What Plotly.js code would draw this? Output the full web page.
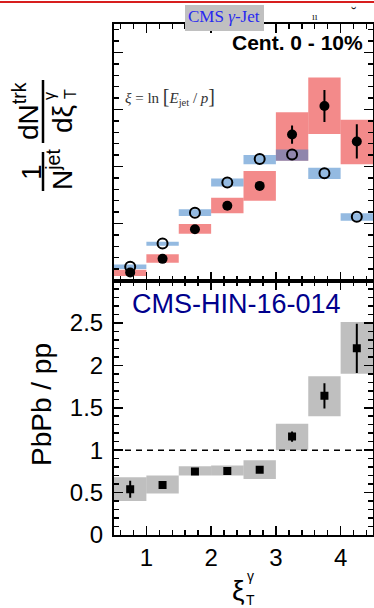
<!DOCTYPE html>
<html><head><meta charset="utf-8">
<script src="https://cdn.plot.ly/plotly-3.0.1.min.js"></script>
<style>html,body{margin:0;padding:0;background:#fff}</style>
</head><body><div id="chart" style="width:374px;height:608px"></div>
<script>
// ---- data ----
const binCenters = [0.75, 1.25, 1.75, 2.25, 2.75, 3.25, 3.75, 4.25];
const binWidth = 0.5;
// top panel: PbPb (filled) and pp (open)
const pbpbVal   = [0.14, 0.38, 0.90, 1.31, 1.66, 2.56, 3.06, 2.44];
const pbpbStat  = [0.03, 0.03, 0.03, 0.04, 0.05, 0.16, 0.28, 0.30];
const pbpbSysLo = [0.08, 0.31, 0.82, 1.18, 1.40, 2.10, 2.57, 2.04];
const pbpbSysHi = [0.19, 0.46, 0.99, 1.45, 1.92, 2.95, 3.56, 2.82];
const ppVal     = [0.24, 0.65, 1.19, 1.72, 2.13, 2.21, 1.88, 1.12];
const ppSysLo   = [0.20, 0.61, 1.13, 1.65, 2.04, 2.10, 1.78, 1.05];
const ppSysHi   = [0.28, 0.68, 1.25, 1.79, 2.20, 2.30, 1.98, 1.18];
// bottom panel: PbPb / pp
const ratioVal   = [0.54, 0.59, 0.75, 0.755, 0.77, 1.16, 1.64, 2.20];
const ratioStat  = [0.10, 0.04, 0.02, 0.02, 0.02, 0.06, 0.15, 0.29];
const ratioSysLo = [0.40, 0.49, 0.70, 0.70, 0.66, 1.00, 1.40, 1.90];
const ratioSysHi = [0.68, 0.70, 0.81, 0.82, 0.88, 1.31, 1.87, 2.51];
const xTickVals = [1, 2, 3, 4];
const yRatioTicks = [0, 0.5, 1, 1.5, 2, 2.5];

// ---- geometry helpers (pixel -> paper) ----
const W = 374, H = 608, ML = 114, MR = 1, MT = 24, MB = 73;
const PW = W - ML - MR, PH = H - MT - MB;
const X = p => (p - ML) / PW;
const Y = p => 1 - (p - MT) / PH;

const diff = (a, b) => a.map((v, i) => v - b[i]);
function box(lo, hi, color, xa, ya) {
  return {type: 'bar', x: binCenters, y: diff(hi, lo), base: lo, width: binWidth,
    marker: {color: color, line: {width: 0}}, xaxis: xa, yaxis: ya, hoverinfo: 'skip', showlegend: false};
}
const FONT = 'Liberation Sans, Arial, Helvetica, sans-serif';
const SERIF = 'Liberation Serif, Times New Roman, serif';

const traces = [
  box(pbpbSysLo, pbpbSysHi, 'rgba(235,60,60,0.6)', 'x2', 'y2'),
  box(ppSysLo, ppSysHi, 'rgba(60,130,200,0.55)', 'x2', 'y2'),
  {type: 'scatter', mode: 'markers', x: binCenters, y: ppVal, xaxis: 'x2', yaxis: 'y2',
   marker: {symbol: 'circle-open', size: 10, color: 'black', line: {width: 2, color: 'black'}}, showlegend: false},
  {type: 'scatter', mode: 'markers', x: binCenters, y: pbpbVal, xaxis: 'x2', yaxis: 'y2',
   error_y: {type: 'data', array: pbpbStat, color: 'black', thickness: 2, width: 0},
   marker: {symbol: 'circle', size: 10, color: 'black'}, showlegend: false},
  box(ratioSysLo, ratioSysHi, 'rgba(128,128,128,0.5)', 'x', 'y'),
  {type: 'scatter', mode: 'markers', x: binCenters, y: ratioVal, xaxis: 'x', yaxis: 'y',
   error_y: {type: 'data', array: ratioStat, color: 'black', thickness: 2, width: 0},
   marker: {symbol: 'square', size: 8, color: 'black'}, showlegend: false}
];

const axCommon = {showline: true, linewidth: 2, linecolor: 'black', mirror: 'allticks',
  ticks: 'inside', tickwidth: 1.5, tickcolor: 'black', showgrid: false, zeroline: false,
  tickfont: {family: FONT, size: 24, color: 'black'}};

const split = 1 - (280.5 - MT) / PH;

function ann(px, py, text, size, extra) {
  return Object.assign({xref: 'paper', yref: 'paper', x: X(px), y: Y(py), text: text, showarrow: false,
    xanchor: 'center', yanchor: 'middle', font: {family: FONT, size: size, color: 'black'}}, extra || {});
}

const layout = {
  width: W, height: H, margin: {l: ML, r: MR, t: MT, b: MB, pad: 0},
  paper_bgcolor: 'white', plot_bgcolor: 'white', barmode: 'overlay', showlegend: false,
  font: {family: FONT, color: 'black'},
  xaxis: Object.assign({}, axCommon, {domain: [0, 1], anchor: 'y', range: [0.5, 4.5],
    tickmode: 'array', tickvals: xTickVals, ticklen: 9,
    minor: {dtick: 0.2, tick0: 0, ticklen: 5, tickwidth: 1.5, ticks: 'inside', tickcolor: 'black'}}),
  xaxis2: Object.assign({}, axCommon, {domain: [0, 1], anchor: 'y2', matches: 'x', range: [0.5, 4.5],
    tickmode: 'array', tickvals: xTickVals, ticklen: 9, showticklabels: false,
    minor: {dtick: 0.2, tick0: 0, ticklen: 5, tickwidth: 1.5, ticks: 'inside', tickcolor: 'black'}}),
  yaxis: Object.assign({}, axCommon, {domain: [0, split], anchor: 'x', range: [0, 3],
    tickmode: 'array', tickvals: yRatioTicks, ticktext: yRatioTicks.map(String), ticklen: 9, ticklabelstandoff: 4,
    minor: {dtick: 0.1, tick0: 0, ticklen: 5, tickwidth: 1.5, ticks: 'inside', tickcolor: 'black'}}),
  yaxis2: Object.assign({}, axCommon, {domain: [split, 1], anchor: 'x2', range: [0, 4.5],
    dtick: 1, tick0: 0, ticklen: 9, showticklabels: false,
    minor: {dtick: 0.2, tick0: 0, ticklen: 5, tickwidth: 1.5, ticks: 'inside', tickcolor: 'black'}}),
  shapes: [
    {type: 'line', xref: 'x domain', yref: 'y', x0: 0, x1: 1, y0: 1, y1: 1,
     line: {color: 'black', width: 1.5, dash: '6px,5px'}},
    {type: 'line', xref: 'paper', yref: 'paper', x0: X(0), x1: X(374), y0: Y(2), y1: Y(2),
     line: {color: 'rgb(215,30,30)', width: 2}},
    {type: 'rect', xref: 'paper', yref: 'paper', x0: X(185), x1: X(264), y0: Y(5), y1: Y(31),
     fillcolor: 'rgb(192,192,192)', line: {width: 0}},
    {type: 'line', xref: 'paper', yref: 'paper', x0: X(43), x1: X(43), y0: Y(80), y1: Y(143),
     line: {color: 'black', width: 2.5}},
    {type: 'line', xref: 'paper', yref: 'paper', x0: X(43), x1: X(43), y0: Y(152), y1: Y(191),
     line: {color: 'black', width: 2.5}}
  ],
  annotations: [
    ann(224, 17, 'CMS <i>γ</i>-Jet', 17, {font: {family: SERIF, size: 17, color: 'rgb(40,40,240)'}}),
    ann(315, 16, 'ıı', 10, {font: {family: SERIF, size: 10, color: '#222'}}),
    ann(353, 13, '˘', 16, {font: {family: SERIF, size: 16, color: '#222'}}),
    ann(365, 42, '<b>Cent. 0 - 10%</b>', 21, {xanchor: 'right'}),
    ann(123, 96, '<i>ξ</i> = ln <span style="font-size:20px">[</span><i>E</i><sub>jet</sub> / <i>p</i><span style="font-size:20px">]</span>', 15,
        {xanchor: 'left', font: {family: SERIF, size: 15, color: '#333'}}),
    ann(236, 304, 'CMS-HIN-16-014', 27, {font: {family: FONT, size: 27, color: 'rgb(0,0,140)'}}),
    // y title top panel (fraction)
    ann(31, 172, '1', 28, {textangle: -90}),
    ann(60, 170, 'N<sup>jet</sup>', 28, {textangle: -90}),
    ann(26, 111, 'dN<sup>trk</sup>', 28, {textangle: -90}),
    ann(62, 119, 'dξ', 28, {textangle: -90}),
    ann(49, 96, 'γ', 16, {textangle: -90}),
    ann(70, 94, 'T', 16, {textangle: -90}),
    // y title bottom panel
    ann(41, 405, 'PbPb / pp', 28, {textangle: -90}),
    // x title
    ann(238, 590, 'ξ', 28),
    ann(250, 576, 'γ', 14),
    ann(250, 600, 'T', 14)
  ]
};

Plotly.newPlot('chart', traces, layout, {staticPlot: true, displayModeBar: false});
</script>
</body></html>
